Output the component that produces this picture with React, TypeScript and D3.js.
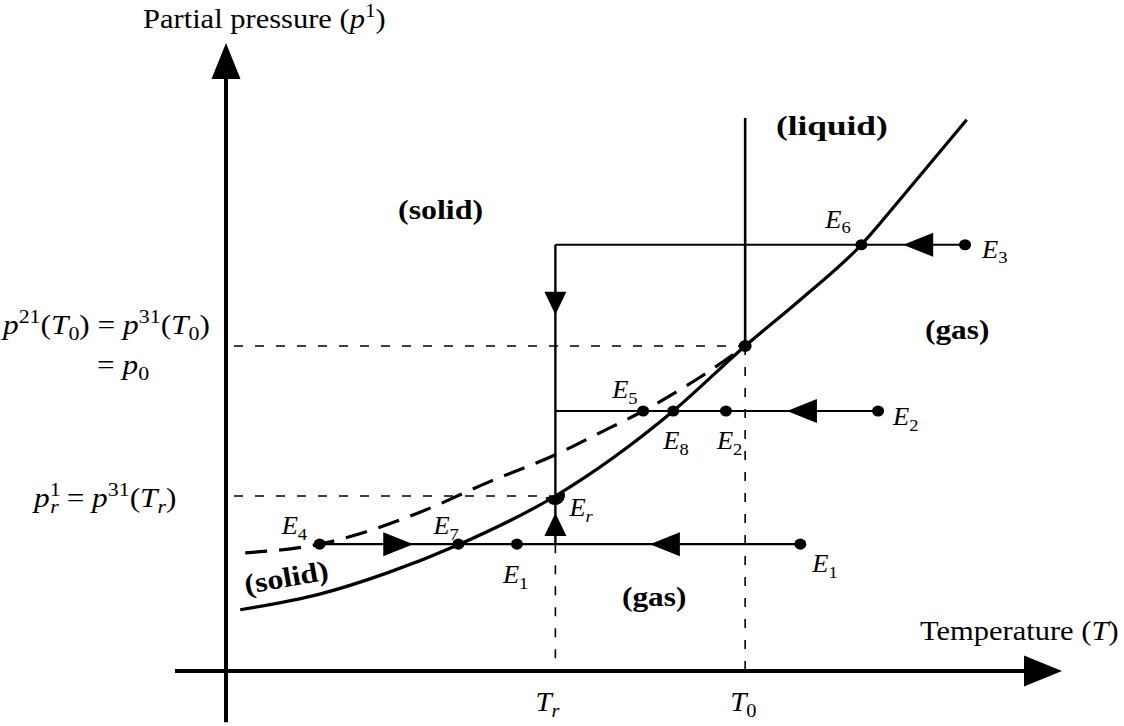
import React from "react";
import * as d3 from "d3";

const W = 1124;
const H = 726;

// ---- data (arbitrary units: temperature T, partial pressure p) ----
const T_r = 3.94;
const T_0 = 6.21;
const p_r = 2.8;
const p_0 = 5.2;

// equilibrium (sublimation / vaporization) curve, solid line
const eqCurveT = [0.17, 1.12, 1.93, 2.78, 3.94, 5.35, 6.21, 6.87, 7.6, 8.06, 8.86];
const eqCurveP = [0.98, 1.23, 1.57, 2.02, 2.8, 4.16, 5.2, 5.94, 6.82, 7.54, 8.82];

// metastable (liquid) curve, dashed line
const metaCurveT = [0.23, 1.12, 2.32, 3.12, 3.94, 4.47, 4.99, 5.67, 6.21];
const metaCurveP = [1.89, 2.03, 2.54, 3.01, 3.46, 3.81, 4.16, 4.7, 5.2];

// process paths
const pathLevelsP = [6.82, 4.16, 2.03];
const pathStartT = [T_r, T_r, 1.12];
const pathEndT = [8.84, 7.8, 6.87];
const liquidLineTopP = 8.85;

// marked states
const markerNames = ["6", "3", "5", "8", "2", "2", "4", "7", "1", "1"];
const markerT = [7.6, 8.84, 4.99, 5.35, 5.98, 7.8, 1.12, 2.78, 3.48, 6.87];
const markerP = [6.82, 6.82, 4.16, 4.16, 4.16, 4.16, 2.03, 2.03, 2.03, 2.03];

// direction arrows (tip position)
const arrowT = [8.1, 6.71, 5.07, 2.24, T_r, T_r];
const arrowP = [6.82, 4.16, 2.03, 2.03, 5.7, 2.53];
const arrowDir = ["left", "left", "left", "right", "down", "up"];

// ---- layout ----
const x = d3.scaleLinear().domain([0, 10]).range([226, 1062]);
const y = d3.scaleLinear().domain([0, 10]).range([671, 46]);

const FONT = "'Liberation Serif', 'Times New Roman', serif";

type Part = { t: string; i?: boolean; v?: "sup" | "sub"; dx?: number };

function MathText({
  px,
  py,
  fs,
  parts,
  bold,
  rotate,
  sx = 1,
}: {
  px: number;
  py: number;
  fs: number;
  parts: Part[];
  bold?: boolean;
  rotate?: number;
  sx?: number;
}) {
  let cur = 0;
  const spans = parts.map((p, k) => {
    const target = p.v === "sup" ? -0.4 * fs : p.v === "sub" ? 0.22 * fs : 0;
    const dy = target - cur;
    cur = target;
    return (
      <tspan
        key={k}
        dy={dy}
        dx={p.dx ? p.dx * fs : undefined}
        fontStyle={p.i ? "italic" : "normal"}
        fontSize={p.v ? fs * 0.7 : fs}
      >
        {p.t}
      </tspan>
    );
  });
  return (
    <text
      x={0}
      y={0}
      fontFamily={FONT}
      fontSize={fs}
      fontWeight={bold ? "bold" : "normal"}
      fill="#000"
      transform={`translate(${px} ${py}) rotate(${rotate || 0}) scale(${sx} 1)`}
      style={{ whiteSpace: "pre" }}
    >
      {spans}
    </text>
  );
}

function arrowPath(tx: number, ty: number, dir: string, len: number, half: number) {
  if (dir === "left") return `M${tx},${ty} L${tx + len},${ty - half} L${tx + len},${ty + half} Z`;
  if (dir === "right") return `M${tx},${ty} L${tx - len},${ty - half} L${tx - len},${ty + half} Z`;
  if (dir === "down") return `M${tx},${ty} L${tx - half},${ty - len} L${tx + half},${ty - len} Z`;
  return `M${tx},${ty} L${tx - half},${ty + len} L${tx + half},${ty + len} Z`;
}

export default function App() {
  const line = d3
    .line<[number, number]>()
    .x((d) => x(d[0]))
    .y((d) => y(d[1]))
    .curve(d3.curveMonotoneX);

  const eqPts = eqCurveT.map((t, i) => [t, eqCurveP[i]] as [number, number]);
  const metaPts = metaCurveT.map((t, i) => [t, metaCurveP[i]] as [number, number]);

  // label offsets from marker (layout)
  const labelDx = [-36, 17, -31, -10, -9, 15, -38, -25, -14, 12];
  const labelDy = [-17, 13, -13, 38, 38, 14, -10, -10, 39, 28];

  const xr = x(T_r);
  const x0 = x(T_0);
  const yr = y(p_r);
  const y0 = y(p_0);
  const yAxisX = x(0);
  const xAxisY = y(0);

  return (
    <svg width={W} height={H} style={{ display: "block", position: "absolute", left: 0, top: 0 }}>
      <rect width={W} height={H} fill="#fff" />

      {/* axes */}
      <line x1={yAxisX} y1={y(-0.82)} x2={yAxisX} y2={y(10.05) + 34} stroke="#000" strokeWidth={4} />
      <path d={arrowPath(yAxisX, y(10.05), "up", 36, 14.5)} fill="#000" />
      <line x1={x(-0.61)} y1={xAxisY} x2={x(10) - 36} y2={xAxisY} stroke="#000" strokeWidth={4} />
      <path d={arrowPath(x(10), xAxisY, "right", 38, 15.5)} fill="#000" />

      {/* thin dashed reference lines */}
      <g stroke="#000" strokeWidth={1.6} strokeDasharray="9 12" fill="none">
        <line x1={yAxisX + 8} y1={y0} x2={x0} y2={y0} />
        <line x1={yAxisX + 8} y1={yr} x2={xr} y2={yr} />
        <line x1={xr} y1={y(pathLevelsP[2])} x2={xr} y2={xAxisY} />
        <line x1={x0} y1={y0} x2={x0} y2={xAxisY} />
      </g>

      {/* phase curves */}
      <path d={line(eqPts) || ""} fill="none" stroke="#000" strokeWidth={3.2} />
      <path
        d={line(metaPts) || ""}
        fill="none"
        stroke="#000"
        strokeWidth={3.2}
        strokeDasharray="22 12"
      />

      {/* liquid boundary */}
      <line x1={x0} y1={y0} x2={x0} y2={y(liquidLineTopP)} stroke="#000" strokeWidth={2.6} />

      {/* process paths */}
      {pathLevelsP.map((p, i) => (
        <line
          key={i}
          x1={x(pathStartT[i])}
          y1={y(p)}
          x2={x(pathEndT[i])}
          y2={y(p)}
          stroke="#000"
          strokeWidth={2.2}
        />
      ))}
      <line x1={xr} y1={y(pathLevelsP[0])} x2={xr} y2={y(pathLevelsP[2])} stroke="#000" strokeWidth={2.4} />

      {/* arrows */}
      {arrowT.map((t, i) => {
        const horiz = arrowDir[i] === "left" || arrowDir[i] === "right";
        return (
          <path
            key={i}
            d={arrowPath(x(t), y(arrowP[i]), arrowDir[i], horiz ? 30 : 23, horiz ? 12 : 11)}
            fill="#000"
          />
        );
      })}

      {/* markers */}
      {markerT.map((t, i) => (
        <ellipse key={i} cx={x(t)} cy={y(markerP[i])} rx={6} ry={5.6} fill="#000" />
      ))}
      <ellipse cx={x0} cy={y0} rx={6.5} ry={6} fill="#000" />
      {/* E_r half disc */}
      <path
        d={`M${xr - 10},${yr - 1} A10 10 0 0 0 ${xr + 10},${yr - 1} Z`}
        fill="#000"
        transform={`rotate(-15 ${xr} ${yr})`}
      />

      {/* marker labels */}
      {markerT.map((t, i) => (
        <MathText
          key={i}
          px={x(t) + labelDx[i]}
          py={y(markerP[i]) + labelDy[i]}
          fs={25}
          sx={1.06}
          parts={[{ t: "E", i: true }, { t: markerNames[i], v: "sub" }]}
        />
      ))}
      <MathText px={xr + 14} py={yr + 20} fs={25} sx={1.06} parts={[{ t: "E", i: true }, { t: "r", i: true, v: "sub" }]} />

      {/* axis labels */}
      <MathText
        px={143}
        py={28}
        fs={27}
        sx={1.13}
        parts={[{ t: "Partial pressure (" }, { t: "p", i: true }, { t: "1", v: "sup" }, { t: ")" }]}
      />
      <MathText px={920} py={640} fs={27} sx={1.13} parts={[{ t: "Temperature (" }, { t: "T", i: true }, { t: ")" }]} />
      <MathText px={xr - 20} py={711} fs={27} sx={1.08} parts={[{ t: "T", i: true }, { t: "r", i: true, v: "sub" }]} />
      <MathText px={x0 - 15} py={711} fs={27} sx={1.08} parts={[{ t: "T", i: true }, { t: "0", v: "sub" }]} />

      <MathText
        px={3}
        py={334}
        fs={27}
        sx={1.16}
        parts={[
          { t: "p", i: true },
          { t: "21", v: "sup" },
          { t: "(" },
          { t: "T", i: true },
          { t: "0", v: "sub" },
          { t: ") = " },
          { t: "p", i: true },
          { t: "31", v: "sup" },
          { t: "(" },
          { t: "T", i: true },
          { t: "0", v: "sub" },
          { t: ")" },
        ]}
      />
      <MathText px={97} py={374} fs={27} sx={1.16} parts={[{ t: "= " }, { t: "p", i: true }, { t: "0", v: "sub" }]} />
      <MathText
        px={34}
        py={507}
        fs={27}
        sx={1.16}
        parts={[
          { t: "p", i: true },
          { t: "1", v: "sup" },
          { t: "r", i: true, v: "sub", dx: -0.33 },
          { t: " = " },
          { t: "p", i: true },
          { t: "31", v: "sup" },
          { t: "(" },
          { t: "T", i: true },
          { t: "r", i: true, v: "sub" },
          { t: ")" },
        ]}
      />

      {/* region labels */}
      <MathText px={398} py={219} fs={28} sx={1.14} bold parts={[{ t: "(solid)" }]} />
      <MathText px={776} py={135} fs={28} sx={1.26} bold parts={[{ t: "(liquid)" }]} />
      <MathText px={925} py={339} fs={28} sx={1.12} bold parts={[{ t: "(gas)" }]} />
      <MathText px={622} py={606} fs={28} sx={1.12} bold parts={[{ t: "(gas)" }]} />
      <MathText px={246} py={594} fs={28} sx={1.14} bold rotate={-10} parts={[{ t: "(solid)" }]} />
    </svg>
  );
}
